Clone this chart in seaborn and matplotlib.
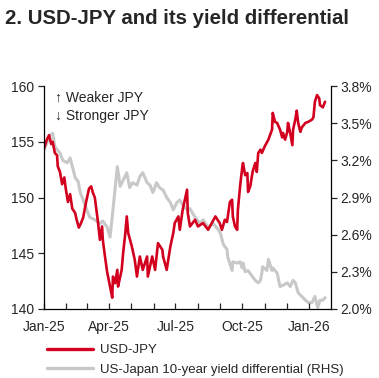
import pandas as pd
import matplotlib
matplotlib.use("Agg")
import matplotlib.pyplot as plt
import matplotlib.dates as mdates
from matplotlib.lines import Line2D
import seaborn as sns

sns.set_style("white")
plt.rcParams['font.family'] = ['Liberation Sans', 'DejaVu Sans']

# USD-JPY (left axis)
usdjpy_dates = [
    "2025-01-01", "2025-01-05", "2025-01-08", "2025-01-11", "2025-01-13", "2025-01-16",
    "2025-01-19", "2025-01-20", "2025-01-23", "2025-01-26", "2025-01-29", "2025-01-31",
    "2025-02-03", "2025-02-06", "2025-02-09", "2025-02-13", "2025-02-15", "2025-02-18",
    "2025-02-21", "2025-02-24", "2025-02-28", "2025-03-04", "2025-03-07", "2025-03-09",
    "2025-03-12", "2025-03-16", "2025-03-19", "2025-03-22", "2025-03-23", "2025-03-26",
    "2025-03-29", "2025-04-02", "2025-04-05", "2025-04-06", "2025-04-09", "2025-04-12",
    "2025-04-13", "2025-04-16", "2025-04-18", "2025-04-20", "2025-04-23", "2025-04-25",
    "2025-04-27", "2025-05-02", "2025-05-06", "2025-05-09", "2025-05-13", "2025-05-17",
    "2025-05-23", "2025-05-24", "2025-05-30", "2025-06-03", "2025-06-07", "2025-06-13",
    "2025-06-14", "2025-06-19", "2025-06-24", "2025-06-28", "2025-06-30", "2025-07-05",
    "2025-07-07", "2025-07-11", "2025-07-17", "2025-07-18", "2025-07-21", "2025-07-28",
    "2025-08-01", "2025-08-08", "2025-08-15", "2025-08-25", "2025-08-31", "2025-09-03",
    "2025-09-07", "2025-09-10", "2025-09-14", "2025-09-17", "2025-09-18", "2025-09-21",
    "2025-09-24", "2025-09-25", "2025-09-28", "2025-10-01", "2025-10-02", "2025-10-05",
    "2025-10-08", "2025-10-09", "2025-10-12", "2025-10-15", "2025-10-16", "2025-10-19",
    "2025-10-21", "2025-10-23", "2025-10-26", "2025-10-28", "2025-11-01", "2025-11-06",
    "2025-11-11", "2025-11-12", "2025-11-15", "2025-11-18", "2025-11-22", "2025-11-25",
    "2025-11-26", "2025-11-29", "2025-12-02", "2025-12-03", "2025-12-06", "2025-12-09",
    "2025-12-10", "2025-12-13", "2025-12-15", "2025-12-17", "2025-12-20", "2025-12-22",
    "2025-12-27", "2025-12-31", "2026-01-05", "2026-01-07", "2026-01-09", "2026-01-12",
    "2026-01-15", "2026-01-16", "2026-01-20", "2026-01-23",
]
usdjpy_values = [
    154.4, 155.2, 155.6, 154.8, 155.0, 154.0,
    153.8, 152.8, 152.3, 151.2, 151.8, 150.8,
    149.6, 150.3, 149.0, 148.6, 148.0, 147.3,
    147.7, 148.2, 149.6, 150.8, 151.0, 150.5,
    150.0, 148.0, 146.2, 147.4, 146.2, 144.7,
    143.3, 142.0, 141.0, 142.9, 142.3, 143.5,
    142.0, 142.9, 143.5, 145.0, 146.8, 148.3,
    146.8, 145.6, 144.4, 142.9, 144.7, 143.5,
    144.7, 142.9, 144.7, 143.5, 145.9, 145.3,
    144.7, 143.5, 145.6, 146.8, 147.7, 148.3,
    147.1, 148.9, 150.7, 148.6, 147.4, 148.0,
    147.4, 147.7, 147.1, 148.3, 147.7, 147.1,
    148.0, 147.8, 149.6, 149.8, 148.3, 147.4,
    147.1, 148.9, 151.0, 152.7, 153.1, 152.0,
    152.2, 150.5, 151.0, 152.2, 152.5, 153.1,
    152.3, 154.0, 154.3, 154.0, 154.6, 155.2,
    156.1, 157.6, 156.8, 156.7, 156.1, 155.4,
    155.8, 155.2, 155.9, 156.7, 155.8, 154.7,
    156.1, 157.0, 157.8, 156.7, 155.9, 156.3,
    156.7, 156.8, 157.0, 157.2, 158.6, 159.2,
    158.9, 158.3, 158.1, 158.6,
]

# US-Japan 10-year yield differential, % (right axis)
spread_dates = [
    "2025-01-01", "2025-01-05", "2025-01-09", "2025-01-13", "2025-01-16", "2025-01-20",
    "2025-01-23", "2025-01-27", "2025-02-02", "2025-02-06", "2025-02-10", "2025-02-13",
    "2025-02-17", "2025-02-20", "2025-02-24", "2025-03-01", "2025-03-05", "2025-03-12",
    "2025-03-19", "2025-03-23", "2025-03-29", "2025-04-02", "2025-04-06", "2025-04-12",
    "2025-04-16", "2025-04-20", "2025-04-25", "2025-04-29", "2025-05-03", "2025-05-09",
    "2025-05-13", "2025-05-17", "2025-05-23", "2025-05-27", "2025-05-31", "2025-06-05",
    "2025-06-09", "2025-06-14", "2025-06-19", "2025-06-24", "2025-06-28", "2025-07-03",
    "2025-07-07", "2025-07-11", "2025-07-17", "2025-07-21", "2025-07-28", "2025-08-04",
    "2025-08-08", "2025-08-15", "2025-08-22", "2025-08-29", "2025-09-01", "2025-09-05",
    "2025-09-10", "2025-09-11", "2025-09-17", "2025-09-18", "2025-09-24", "2025-09-28",
    "2025-10-01", "2025-10-02", "2025-10-05", "2025-10-09", "2025-10-15", "2025-10-19",
    "2025-10-23", "2025-10-26", "2025-10-28", "2025-10-29", "2025-11-04", "2025-11-06",
    "2025-11-11", "2025-11-12", "2025-11-18", "2025-11-22", "2025-11-26", "2025-12-02",
    "2025-12-06", "2025-12-10", "2025-12-13", "2025-12-17", "2025-12-22", "2025-12-27",
    "2025-12-31", "2026-01-05", "2026-01-09", "2026-01-13", "2026-01-16", "2026-01-20",
    "2026-01-23",
]
spread_values = [
    3.28, 3.34, 3.40, 3.42, 3.31, 3.28,
    3.26, 3.20, 3.18, 3.22, 3.13, 3.06,
    3.03, 2.94, 2.88, 2.80, 2.74, 2.72,
    2.69, 2.71, 2.66, 2.58, 2.80, 3.15,
    2.99, 3.04, 3.10, 2.98, 3.02, 3.00,
    3.07, 3.10, 3.02, 3.00, 2.94, 3.02,
    2.98, 2.96, 2.90, 2.86, 2.80, 2.86,
    2.88, 2.84, 2.80, 2.81, 2.74, 2.69,
    2.72, 2.66, 2.69, 2.64, 2.61, 2.52,
    2.48, 2.42, 2.31, 2.38, 2.37, 2.38,
    2.33, 2.37, 2.30, 2.31, 2.26, 2.23,
    2.21, 2.23, 2.29, 2.34, 2.31, 2.40,
    2.31, 2.33, 2.29, 2.18, 2.19, 2.21,
    2.18, 2.23, 2.21, 2.13, 2.10, 2.07,
    2.05, 2.05, 2.10, 2.01, 2.07, 2.07,
    2.09,
]

left_ticks = [140, 145, 150, 155, 160]
right_ticks = [2.0, 2.3, 2.6, 2.9, 3.2, 3.5, 3.8]

red = "#D2001E"
grey = "#C8C8C8"

fx = pd.DataFrame({"date": pd.to_datetime(usdjpy_dates), "value": usdjpy_values})
sp = pd.DataFrame({"date": pd.to_datetime(spread_dates), "value": spread_values})

fig = plt.figure(figsize=(3.79, 3.78), dpi=100)
ax = fig.add_axes([0.116, 0.183, 0.757, 0.589])
ax2 = ax.twinx()

sns.lineplot(data=sp, x="date", y="value", ax=ax2, color=grey, linewidth=2.2)
sns.lineplot(data=fx, x="date", y="value", ax=ax, color=red, linewidth=1.9)
ax.set_zorder(ax2.get_zorder() + 1)
ax.patch.set_visible(False)

ax.set_ylim(140, 160)
ax.set_yticks(left_ticks)
ax2.set_ylim(2.0, 3.8)
ax2.set_yticks(right_ticks)
ax2.set_yticklabels([f"{t:.1f}%" for t in right_ticks])
ax.set_xlim(pd.Timestamp("2025-01-01"), pd.Timestamp("2026-01-31"))
ax.xaxis.set_major_locator(mdates.MonthLocator(bymonth=[1, 4, 7, 10]))
ax.xaxis.set_minor_locator(mdates.MonthLocator())
ax.xaxis.set_major_formatter(mdates.DateFormatter("%b-%y"))

for a in (ax, ax2):
    a.set_xlabel("")
    a.set_ylabel("")
    a.spines["top"].set_visible(False)
    for s in a.spines.values():
        s.set_color("black")
        s.set_linewidth(0.9)
ax.spines["right"].set_visible(False)
ax2.spines["left"].set_visible(False)
ax2.spines["bottom"].set_visible(False)

ax.tick_params(axis="y", direction="out", length=4, width=0.9, labelsize=10, pad=3, left=True)
ax2.tick_params(axis="y", direction="out", length=4, width=0.9, labelsize=10, pad=3, right=True)
ax.tick_params(axis="x", which="both", direction="in", length=4, width=0.9, labelsize=10, pad=8, bottom=True)

ax.text(0.04, 0.95, "\u2191 Weaker JPY", transform=ax.transAxes, fontsize=10, va="center")
ax.text(0.04, 0.865, "\u2193 Stronger JPY", transform=ax.transAxes, fontsize=10, va="center")

fig.text(0.013, 0.952, "2. USD-JPY and its yield differential", fontsize=14.7,
         fontweight="bold", va="center")

handles = [Line2D([], [], color=red, linewidth=2.4),
           Line2D([], [], color=grey, linewidth=2.4)]
fig.legend(handles, ["USD-JPY", "US-Japan 10-year yield differential (RHS)"],
           loc="upper left", bbox_to_anchor=(0.124, 0.09), frameon=False,
           fontsize=9.5, handlelength=3.5, handletextpad=0.5, labelspacing=0.55,
           borderaxespad=0, borderpad=0)

fig.savefig("out.png", dpi=100)
